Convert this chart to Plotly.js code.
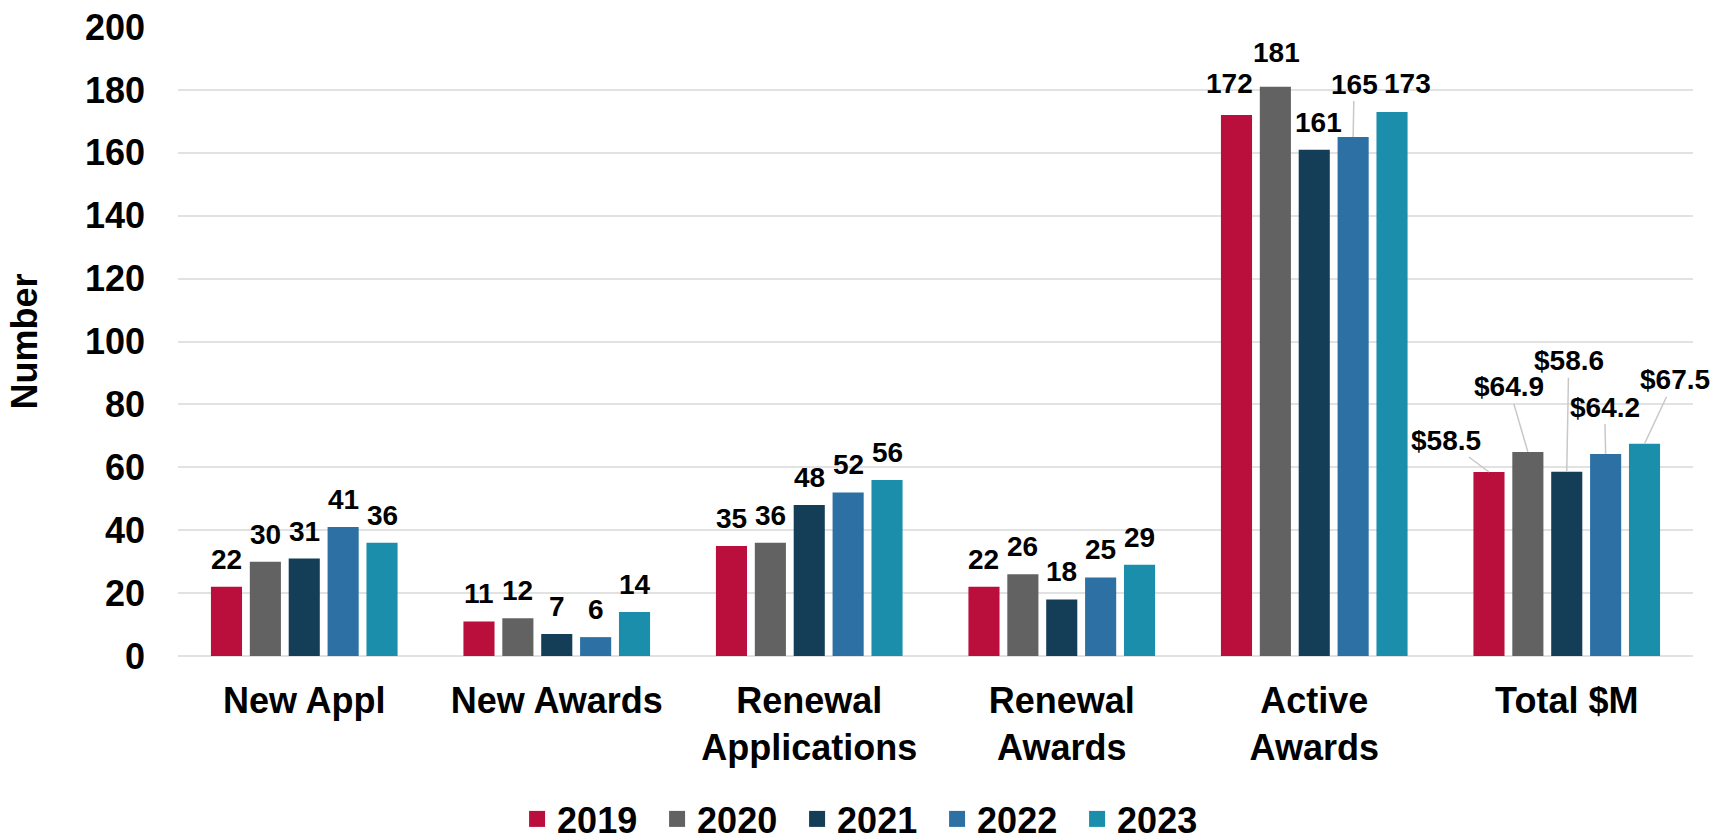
<!DOCTYPE html>
<html>
<head>
<meta charset="utf-8">
<script src="https://cdn.plot.ly/plotly-3.0.1.min.js"></script>
<style>html,body{margin:0;padding:0;background:#fff;}#chart{width:1717px;height:840px;}</style>
</head>
<body>
<div id="chart"></div>
<script>
// ---- data ----
const categories = ['New Appl', 'New Awards', 'Renewal<br>Applications', 'Renewal<br>Awards', 'Active<br>Awards', 'Total $M'];
const years = ['2019', '2020', '2021', '2022', '2023'];
const v2019 = [22, 11, 35, 22, 172, 58.5];
const v2020 = [30, 12, 36, 26, 181, 64.9];
const v2021 = [31, 7, 48, 18, 161, 58.6];
const v2022 = [41, 6, 52, 25, 165, 64.2];
const v2023 = [36, 14, 56, 29, 173, 67.5];
const moneyCategory = 'Total $M';
const yTicks = [0, 20, 40, 60, 80, 100, 120, 140, 160, 180, 200];

// ---- style ----
const series = [v2019, v2020, v2021, v2022, v2023];
const colors = ['#BA0E3C', '#626262', '#143D57', '#2C70A4', '#1A8EAA'];
const FONT = 'Liberation Sans, Arial, sans-serif';
const BARGAP = 0.23, GROUPGAP = 0.2;
// label nudges [dx, dy] (pixels) and leader-line offsets [ax, ay]
const nudge = {'4-0': [-7, 4], '4-1': [1, 7], '4-2': [4, 0], '4-4': [15, 1]};
const leaders = {'4-3': [1, -53], '5-0': [-43, -32], '5-1': [-19, -65], '5-2': [2, -111], '5-3': [-1, -47], '5-4': [30, -64]};

const traces = [];
series.forEach((vals, j) => {
  traces.push({
    type: 'bar', x: categories, y: vals, name: years[j],
    marker: {color: colors[j]}, showlegend: false, hoverinfo: 'x+y'
  });
});
// legend entries with larger square swatches
years.forEach((yr, j) => {
  traces.push({
    type: 'scatter', mode: 'markers', x: [null], y: [null], name: yr,
    marker: {symbol: 'square', size: 18, color: colors[j]}, hoverinfo: 'skip'
  });
});

const slot = (1 - BARGAP) / years.length;
const annotations = [];
series.forEach((vals, j) => {
  vals.forEach((v, i) => {
    const key = i + '-' + j;
    const txt = categories[i] === moneyCategory ? '$' + v.toFixed(1) : String(v);
    const xpos = i + (j - (years.length - 1) / 2) * slot;
    const base = {x: xpos, y: v, xref: 'x', yref: 'y', text: txt,
      font: {family: FONT, size: 28, color: '#000', weight: 'bold'}};
    if (leaders[key]) {
      annotations.push(Object.assign(base, {
        showarrow: true, arrowhead: 0, arrowwidth: 1.5, arrowcolor: '#c8c8c8',
        standoff: 0, ax: leaders[key][0], ay: leaders[key][1]
      }));
    } else {
      const n = nudge[key] || [0, 0];
      annotations.push(Object.assign(base, {
        showarrow: false, yanchor: 'bottom', xanchor: 'center',
        xshift: n[0], yshift: 10 + n[1]
      }));
    }
  });
});

const layout = {
  width: 1717, height: 840,
  margin: {l: 178, r: 24, t: 27, b: 184},
  paper_bgcolor: '#fff', plot_bgcolor: '#fff',
  barmode: 'group', bargap: BARGAP, bargroupgap: GROUPGAP,
  font: {family: FONT, color: '#000'},
  xaxis: {
    type: 'category', range: [-0.5, categories.length - 0.5], autorange: false,
    showgrid: false, zeroline: false, showline: false,
    ticks: '', tickfont: {family: FONT, size: 36, color: '#000', weight: 'bold'},
    ticklabelstandoff: 20, automargin: false
  },
  yaxis: {
    range: [0, 200], autorange: false, tickvals: yTicks, showgrid: true, gridcolor: '#e2e2e2', gridwidth: 2,
    zeroline: true, zerolinecolor: '#e2e2e2', zerolinewidth: 2, showline: false,
    ticks: '', tickfont: {family: FONT, size: 36, color: '#000', weight: 'bold'},
    ticklabelstandoff: 32, automargin: false,
    title: {text: 'Number', font: {family: FONT, size: 36, color: '#000', weight: 'bold'}, standoff: 36}
  },
  showlegend: true,
  legend: {
    orientation: 'h', xref: 'container', yref: 'container',
    x: 0.505, xanchor: 'center', y: 0.025, yanchor: 'middle',
    entrywidth: 95, entrywidthmode: 'pixels',
    font: {family: FONT, size: 36, color: '#000', weight: 'bold'},
    itemsizing: 'trace', bgcolor: 'rgba(0,0,0,0)'
  },
  annotations: annotations
};

Plotly.newPlot('chart', traces, layout, {displayModeBar: false, staticPlot: true});
</script>
</body>
</html>
